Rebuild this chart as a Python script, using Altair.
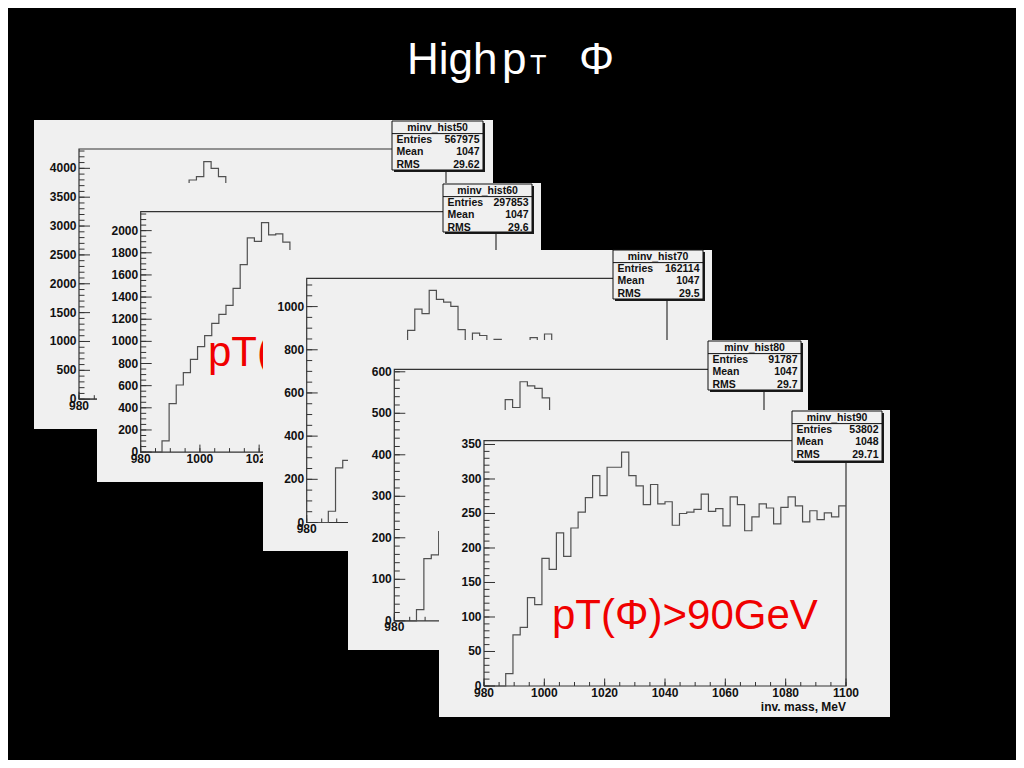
import altair as alt
import pandas as pd

OFF = 8  # page margin: chart origin sits at page (8, 8)
FONT = "Liberation Sans"

# ---------------- data ----------------
BIN_LO, BIN_W, NBINS = 980.0, 2.4, 50
X_MAJOR = [980, 1000, 1020, 1040, 1060, 1080, 1100]
X_MAJOR_LABELS = ["980", "1000", "1020", "1040", "1060", "1080", "1100"]
X_MINOR_STEP = 5

hist50 = [0, 0, 0, 200, 800, 1100, 1350, 1600, 1850, 2100, 2400, 2600, 2800, 3100, 3500,
          3798, 3856, 4115, 4000, 3856,
          3600, 3400, 3250, 3150, 3050, 2950, 2900, 2850, 2800, 2780, 2760, 2740, 2750, 2720,
          2700, 2710, 2690, 2680, 2700, 2670, 2660, 2680, 2650, 2660, 2640, 2650, 2630, 2640,
          2620, 2630]
hist60 = [0, 0, 0, 101, 438, 606, 717, 838, 952, 1051, 1163, 1244, 1325, 1479, 1693, 1934,
          1903, 2073, 1961, 1970, 1897,
          1760, 1640, 1600, 1560, 1500, 1480, 1450, 1470, 1430, 1460, 1420, 1440, 1410, 1430,
          1400, 1420, 1390, 1410, 1380, 1400, 1390, 1370, 1400, 1380, 1360, 1390, 1370, 1380,
          1360]
hist70 = [0, 0, 0, 52, 253, 288, 340, 380, 450, 500, 560, 620, 690, 760,
          890, 988, 967, 1075, 1033, 1021, 1001, 893,
          820, 877, 866, 835, 848, 800, 815, 820, 790, 856, 810, 873,
          830, 780, 800, 790, 770, 810, 780, 760, 790, 800, 770, 780, 760, 790, 770, 780]
hist80 = [0, 0, 0, 27, 150, 159, 215, 240, 300, 320, 370, 390, 430, 470, 490,
          533, 514, 576, 566, 560, 537,
          500, 470, 480, 460, 450, 430, 440, 445, 450, 470, 440, 450, 420, 460, 445, 410, 430,
          450, 440, 420, 440, 460, 445, 420, 440, 425, 435, 430, 445]
hist90 = [0, 0, 0, 18, 74, 85, 128, 118, 185, 169, 222, 188, 229, 252, 273, 305, 276, 317,
          317, 339, 305, 290, 263, 292, 264, 267, 233, 250, 252, 256, 278, 253, 257, 232, 274,
          263, 225, 245, 264, 258, 235, 259, 274, 261, 238, 254, 241, 251, 245, 261]

names = ["minv_hist50", "minv_hist60", "minv_hist70", "minv_hist80", "minv_hist90"]
entries = ["567975", "297853", "162114", "91787", "53802"]
means = ["1047", "1047", "1047", "1047", "1048"]
rmss = ["29.62", "29.6", "29.5", "29.7", "29.71"]

y_major = [
    [0, 500, 1000, 1500, 2000, 2500, 3000, 3500, 4000],
    [0, 200, 400, 600, 800, 1000, 1200, 1400, 1600, 1800, 2000],
    [0, 200, 400, 600, 800, 1000],
    [0, 100, 200, 300, 400, 500, 600],
    [0, 50, 100, 150, 200, 250, 300, 350],
]
y_minor_step = [100, 50, 50, 20, 10]
y_max = [4335, 2171, 1131, 606, 355.5]
red_labels = ["", "pT(Φ)>60GeV", "", "", "pT(Φ)>90GeV"]
hists = [hist50, hist60, hist70, hist80, hist90]

# ---------------- layout (page pixels) ----------------
LAYOUT = [
    dict(bg=(34, 120, 493, 429), fr=(79, 149, 446, 399.2), box=(392, 121, 483, 170), red=None),
    dict(bg=(97, 183, 541, 482), fr=(140.7, 211.7, 496, 452.1), box=(443, 184, 532, 232), red=(208, 366)),
    dict(bg=(263, 250, 712, 551), fr=(306.7, 278.3, 667, 522.5), box=(613, 250, 703, 299), red=None),
    dict(bg=(348, 340, 808, 650), fr=(394.3, 369.3, 764, 620.8), box=(708, 341, 801, 390), red=None),
    dict(bg=(439, 410, 890, 717), fr=(484, 440.7, 846, 686), box=(792, 411, 882, 461), red=(552, 629)),
]

PANEL_BG = "#f0f0f0"
FRAME_C = "#333333"
HIST_C = "#505050"
LABEL_C = "#111111"

one = pd.DataFrame({"k": [0]})


def pv(v):
    return alt.value(v - OFF)


def rect(x0, y0, x1, y1, **kw):
    return alt.Chart(one).mark_rect(**kw).encode(x=pv(x0), x2=pv(x1), y=pv(y0), y2=pv(y1))


def hline(x0, x1, y, color, sw=1):
    return alt.Chart(one).mark_rule(color=color, strokeWidth=sw).encode(x=pv(x0), x2=pv(x1), y=pv(y))


def text(x, y, s, size, color="black", weight="normal", align="left", baseline="alphabetic", font=FONT):
    return alt.Chart(one).mark_text(
        text=s, fontSize=size, color=color, fontWeight=weight, align=align, baseline=baseline, font=font
    ).encode(x=pv(x), y=pv(y))


def panel(i):
    L = LAYOUT[i]
    bx0, by0, bx1, by1 = L["bg"]
    l, t, r, b = L["fr"]
    xs = alt.Scale(domain=[980, 1100], range=[l - OFF, r - OFF], nice=False, zero=False)
    ys = alt.Scale(domain=[0, y_max[i]], range=[b - OFF, t - OFF], nice=False, zero=False)
    layers = []
    layers.append(rect(bx0, by0, bx1, by1, fill=PANEL_BG))
    layers.append(rect(l, t, r, b, fill="transparent", stroke=FRAME_C, strokeWidth=1.2))

    # histogram
    edges = [BIN_LO + BIN_W * k for k in range(NBINS + 1)]
    vals = hists[i] + [hists[i][-1]]
    hdf = pd.DataFrame({"x": edges, "y": vals})
    layers.append(
        alt.Chart(hdf).mark_line(interpolate="step-after", color=HIST_C, strokeWidth=1.2).encode(
            x=alt.X("x:Q", scale=xs, axis=None), y=alt.Y("y:Q", scale=ys, axis=None)
        )
    )

    # y axis
    ymaj = pd.DataFrame({"v": y_major[i], "lab": [str(v) for v in y_major[i]]})
    step = y_minor_step[i]
    ymin = pd.DataFrame({"v": [k * step for k in range(int(y_max[i] // step) + 1)]})
    layers.append(alt.Chart(ymin).mark_rule(color=FRAME_C, strokeWidth=1).encode(
        y=alt.Y("v:Q", scale=ys, axis=None), x=pv(l), x2=pv(l + 5.5)))
    layers.append(alt.Chart(ymaj).mark_rule(color=FRAME_C, strokeWidth=1).encode(
        y=alt.Y("v:Q", scale=ys, axis=None), x=pv(l), x2=pv(l + 11)))
    layers.append(alt.Chart(ymaj).mark_text(
        align="right", baseline="middle", fontSize=12, fontWeight="bold", font=FONT, color=LABEL_C
    ).encode(y=alt.Y("v:Q", scale=ys, axis=None), x=pv(l - 2.5), text="lab:N"))

    # x axis
    xmaj = pd.DataFrame({"v": X_MAJOR, "lab": X_MAJOR_LABELS})
    xmin = pd.DataFrame({"v": list(range(980, 1101, X_MINOR_STEP))})
    layers.append(alt.Chart(xmin).mark_rule(color=FRAME_C, strokeWidth=1).encode(
        x=alt.X("v:Q", scale=xs, axis=None), y=pv(b), y2=pv(b - 4)))
    layers.append(alt.Chart(xmaj).mark_rule(color=FRAME_C, strokeWidth=1).encode(
        x=alt.X("v:Q", scale=xs, axis=None), y=pv(b), y2=pv(b - 7.5)))
    layers.append(alt.Chart(xmaj).mark_text(
        align="center", baseline="top", fontSize=12, fontWeight="bold", font=FONT, color=LABEL_C
    ).encode(x=alt.X("v:Q", scale=xs, axis=None), y=pv(b + 1.5), text="lab:N"))
    layers.append(text(r, b + 24.5, "inv. mass, MeV", 12, color=LABEL_C, weight="bold", align="right"))

    # red label
    if L["red"] is not None:
        rx, ry = L["red"]
        layers.append(text(rx, ry, red_labels[i], 42, color="#f00000"))

    # stats box
    sx0, sy0, sx1, sy1 = L["box"]
    layers.append(rect(sx0 + 2, sy0 + 2, sx1 + 2, sy1 + 2, fill="#1a1a1a"))
    layers.append(rect(sx0, sy0, sx1, sy1, fill=PANEL_BG, stroke="#111", strokeWidth=1))
    layers.append(hline(sx0, sx1, sy0 + 12.6, "#111"))
    layers.append(text((sx0 + sx1) / 2, sy0 + 6.6, names[i], 10.5, color=LABEL_C, weight="bold",
                       align="center", baseline="middle"))
    rows = [("Entries", entries[i]), ("Mean", means[i]), ("RMS", rmss[i])]
    for j, (lab, val) in enumerate(rows):
        yy = sy0 + 19 + 12.3 * j
        layers.append(text(sx0 + 4.5, yy, lab, 10.5, color=LABEL_C, weight="bold", baseline="middle"))
        layers.append(text(sx1 - 3.5, yy, val, 10.5, color=LABEL_C, weight="bold", align="right",
                           baseline="middle"))

    return alt.layer(*layers)


panels = [panel(i) for i in range(5)]

title = alt.layer(
    text(407, 74, "High", 44, color="white"),
    text(502, 74, "p", 44, color="white"),
    text(530, 73.5, "T", 27, color="white"),
    text(579, 74, "Φ", 44, color="white"),
)

chart = (
    alt.layer(*panels, title)
    .resolve_scale(x="independent", y="independent")
    .properties(width=1008, height=752, background="black", padding=0,
                autosize=alt.AutoSizeParams(type="none"))
    .configure_view(stroke=None)
)

chart.save("out.html", embed_options={"renderer": "svg", "actions": False})
